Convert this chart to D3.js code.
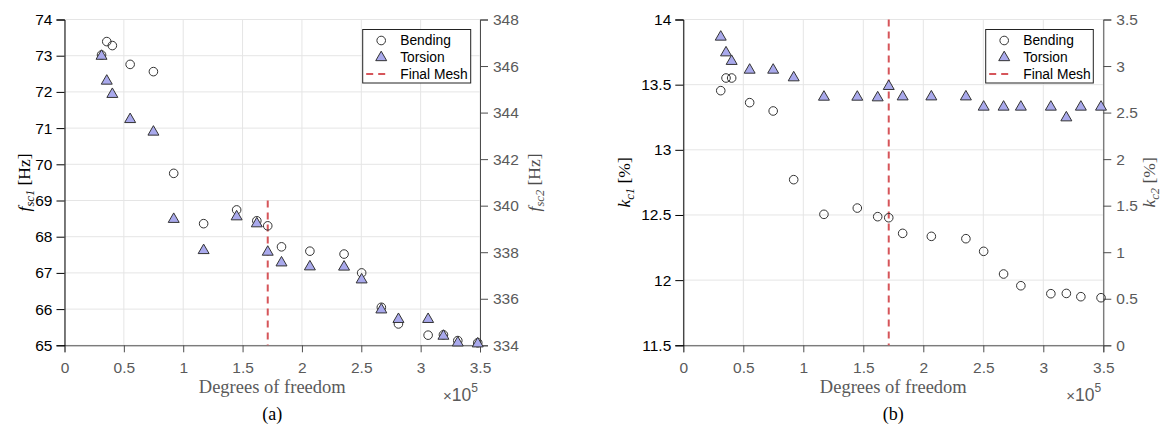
<!DOCTYPE html>
<html><head><meta charset="utf-8">
<script src="https://cdn.jsdelivr.net/npm/d3@7"></script>
<style>body{margin:0;background:#fff}svg{display:block}</style>
</head><body>
<svg id="c" width="1164" height="424"></svg>
<script>
// Degrees of freedom (x 10^5)
const dof = [0.312,0.356,0.403,0.553,0.749,0.92,1.172,1.45,1.62,1.712,1.828,2.067,2.355,2.503,2.669,2.813,3.063,3.192,3.313,3.481];
// Panel (a): frequencies [Hz]
const fBending = [73.02,73.39,73.28,72.76,72.56,69.75,68.36,68.74,68.44,68.30,67.72,67.60,67.52,67.0,66.05,65.59,65.28,65.29,65.13,65.07];
const fTorsion = [346.47,345.40,344.83,343.75,343.21,339.46,338.12,339.57,339.27,338.05,337.59,337.42,337.41,336.86,335.57,335.16,335.16,334.44,334.15,334.11];
// Panel (b): k values [%]
const kBending = [13.454,13.551,13.551,13.362,13.298,12.771,12.505,12.553,12.487,12.479,12.359,12.336,12.318,12.221,12.047,11.957,11.896,11.898,11.873,11.865];
const kTorsion = [3.323,3.154,3.062,2.968,2.968,2.886,2.678,2.678,2.671,2.793,2.681,2.681,2.681,2.571,2.571,2.571,2.571,2.456,2.571,2.571];
const finalMesh = 1.712;
const xTicks = [0,0.5,1,1.5,2,2.5,3,3.5];
const aLeftTicks = [65,66,67,68,69,70,71,72,73,74];
const aRightTicks = [334,336,338,340,342,344,346,348];
const bLeftTicks = [11.5,12,12.5,13,13.5,14];
const bRightTicks = [0,0.5,1,1.5,2,2.5,3,3.5];
const legendLabels = ["Bending","Torsion","Final Mesh"];

const svg = d3.select("#c");
const TRI = "#a9a9ec", MK = "#333", RED = "#d6555a", GRID = "#e5e5e5", GRAY = "#4d4d4d", LGRAY = "#5a5a5a";
const SANS = "'Liberation Sans', Arial, sans-serif", SERIF = "'Liberation Serif', 'Times New Roman', serif";

function yLabel(g, x, y, sym, sub, unit, color) {
  const t = g.append("text").attr("transform", `translate(${x},${y}) rotate(-90)`)
    .attr("text-anchor","middle").attr("font-family",SERIF).attr("font-size",17.5).attr("fill",color);
  t.append("tspan").attr("font-style","italic").text(sym);
  t.append("tspan").attr("font-style","italic").attr("font-size",12.5).attr("dy",4).text(sub);
  t.append("tspan").attr("dy",-4).text(" [" + unit + "]");
}

function panel(o) {
  const g = svg.append("g");
  const x = d3.scaleLinear().domain([0,3.5]).range([o.x0,o.x1]);
  const yL = d3.scaleLinear().domain(o.lDom).range([o.y1,o.y0]);
  const yR = d3.scaleLinear().domain(o.rDom).range([o.y1,o.y0]);
  // grid
  g.append("g").selectAll("line").data(xTicks).join("line")
    .attr("x1",d=>x(d)).attr("x2",d=>x(d)).attr("y1",o.y0).attr("y2",o.y1)
    .attr("stroke",GRID).attr("stroke-width",1);
  g.append("g").selectAll("line").data(o.lTicks).join("line")
    .attr("x1",o.x0).attr("x2",o.x1).attr("y1",d=>yL(d)).attr("y2",d=>yL(d))
    .attr("stroke",GRID).attr("stroke-width",1);
  // axes
  const ax = g.append("g").attr("transform",`translate(0,${o.y1})`)
    .call(d3.axisBottom(x).tickValues(xTicks).tickFormat(d=>d).tickSize(7).tickPadding(10));
  ax.selectAll("path,line").attr("stroke",GRAY);
  ax.selectAll("text").attr("fill",LGRAY).attr("font-family",SANS).attr("font-size",15.5);
  const al = g.append("g").attr("transform",`translate(${o.x0},0)`)
    .call(d3.axisLeft(yL).tickValues(o.lTicks).tickFormat(d=>d).tickSize(8).tickPadding(4));
  al.selectAll("path,line").attr("stroke","#000");
  al.selectAll("text").attr("fill","#000").attr("font-family",SANS).attr("font-size",15.5);
  const ar = g.append("g").attr("transform",`translate(${o.x1},0)`)
    .call(d3.axisRight(yR).tickValues(o.rTicks).tickFormat(d=>d).tickSize(8).tickPadding(5));
  ar.selectAll("path,line").attr("stroke",GRAY);
  ar.selectAll("text").attr("fill",LGRAY).attr("font-family",SANS).attr("font-size",15.5);
  g.selectAll(".domain").attr("stroke-width",1);
  // final mesh line
  g.append("line").attr("x1",x(finalMesh)).attr("x2",x(finalMesh))
    .attr("y1",yL(o.meshTop)).attr("y2",o.y1)
    .attr("stroke",RED).attr("stroke-width",2).attr("stroke-dasharray","7,5");
  // markers
  const tri = d3.symbol().type(d3.symbolTriangle).size(52);
  g.append("g").selectAll("circle").data(dof).join("circle")
    .attr("cx",d=>x(d)).attr("cy",(d,i)=>yL(o.bend[i])).attr("r",4.3)
    .attr("fill","none").attr("stroke",MK).attr("stroke-width",1);
  g.append("g").selectAll("path").data(dof).join("path")
    .attr("d",tri).attr("transform",(d,i)=>`translate(${x(d)},${yR(o.tors[i])+1})`)
    .attr("fill",TRI).attr("stroke",MK).attr("stroke-width",1);
  // labels
  g.append("text").attr("x",(o.x0+o.x1)/2).attr("y",393).attr("text-anchor","middle")
    .attr("font-family",SERIF).attr("font-size",18.5).attr("fill",LGRAY).text("Degrees of freedom");
  g.append("text").attr("x",(o.x0+o.x1)/2).attr("y",420).attr("text-anchor","middle")
    .attr("font-family",SERIF).attr("font-size",18).attr("fill","#000").text(o.tag);
  const ex = g.append("text").attr("x",o.x1-37).attr("y",401).attr("font-family",SANS).attr("fill",LGRAY);
  ex.append("tspan").attr("font-size",15).text("×");
  ex.append("tspan").attr("font-size",17.5).text("10");
  ex.append("tspan").attr("font-size",12).attr("dy",-9).text("5");
  yLabel(g, o.lLabX, (o.y0+o.y1)/2, o.lSym, o.lSub, o.unit, "#000");
  yLabel(g, o.rLabX, (o.y0+o.y1)/2, o.rSym, o.rSub, o.unit, GRAY);
  // legend
  const lg = g.append("g").attr("transform",`translate(${o.legX},29.5)`);
  lg.append("rect").attr("width",o.legW).attr("height",53.5).attr("fill","#fff").attr("stroke","#222").attr("stroke-width",1);
  lg.append("circle").attr("cx",18.5).attr("cy",11).attr("r",4.3).attr("fill","none").attr("stroke",MK);
  lg.append("path").attr("d",tri).attr("transform","translate(18.5,28)").attr("fill",TRI).attr("stroke",MK);
  lg.append("line").attr("x1",3.5).attr("x2",27.5).attr("y1",44.5).attr("y2",44.5)
    .attr("stroke",RED).attr("stroke-width",2).attr("stroke-dasharray","7,5");
  lg.selectAll("text").data(legendLabels).join("text")
    .attr("x",37.5).attr("y",(d,i)=>15.8+i*16.7).attr("font-family",SANS).attr("font-size",13.8).attr("fill","#000").text(d=>d);
}

panel({x0:64.5,x1:480,y0:19.5,y1:345.3,lDom:[65,74],rDom:[334,348],lTicks:aLeftTicks,rTicks:aRightTicks,
  bend:fBending,tors:fTorsion,meshTop:69,tag:"(a)",lSym:"f",lSub:"sc1",rSym:"f",rSub:"sc2",unit:"Hz",
  legX:362.7,legW:108,lLabX:30,rLabX:540});
panel({x0:683.3,x1:1103.3,y0:19.5,y1:345.3,lDom:[11.5,14],rDom:[0,3.5],lTicks:bLeftTicks,rTicks:bRightTicks,
  bend:kBending,tors:kTorsion,meshTop:14,tag:"(b)",lSym:"k",lSub:"c1",rSym:"k",rSub:"c2",unit:"%",
  legX:985.7,legW:107.6,lLabX:630,rLabX:1155});
</script>
</body></html>
